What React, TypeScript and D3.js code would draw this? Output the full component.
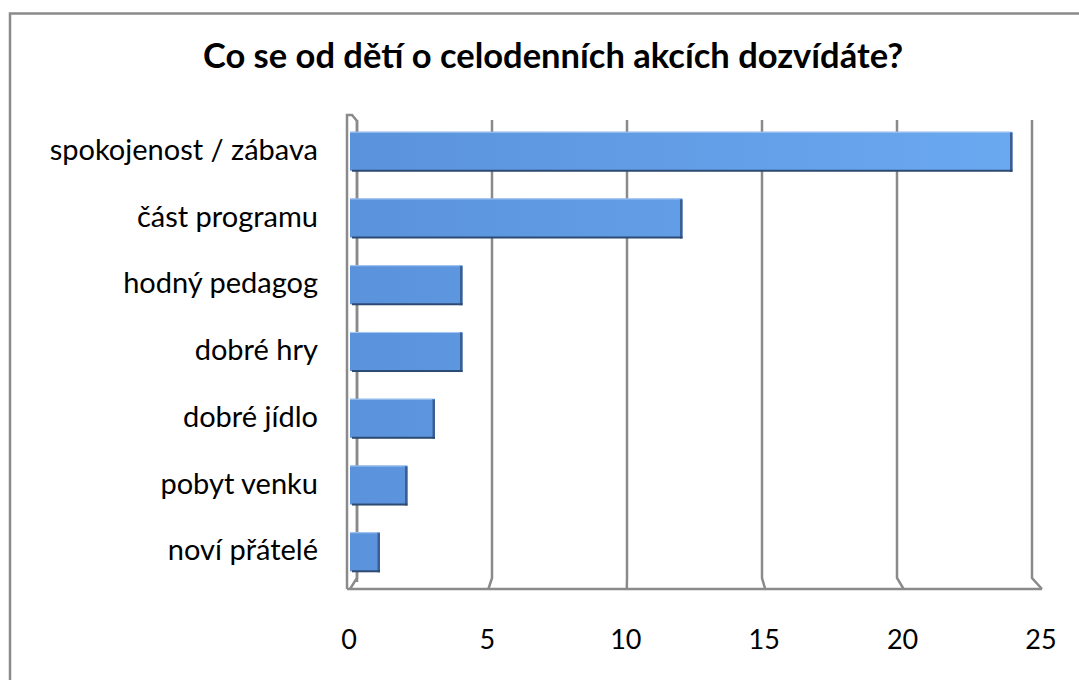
import React, { useEffect, useRef } from "react";
import * as d3 from "d3";

const title = "Co se od dětí o celodenních akcích dozvídáte?";
const categories = [
  "spokojenost / zábava",
  "část programu",
  "hodný pedagog",
  "dobré hry",
  "dobré jídlo",
  "pobyt venku",
  "noví přátelé",
];
const values = [24, 12, 4, 4, 3, 2, 1];
const xTicks = [0, 5, 10, 15, 20, 25];

const FONT = "Lato, 'Open Sans', sans-serif";

export default function App() {
  const ref = useRef<SVGSVGElement>(null);

  useEffect(() => {
    const width = 1079,
      height = 680;
    const svg = d3.select(ref.current).attr("width", width).attr("height", height);
    svg.selectAll("*").remove();

    const defs = svg.append("defs");
    const grad = defs.append("linearGradient").attr("id", "barGrad")
      .attr("gradientUnits", "userSpaceOnUse").attr("x1", 350).attr("x2", 1012).attr("y1", 0).attr("y2", 0);
    grad.append("stop").attr("offset", "0%").attr("stop-color", "#5a93dc");
    grad.append("stop").attr("offset", "100%").attr("stop-color", "#6aa8f0");

    // outer frame (right / bottom edges fall outside the picture)
    svg.append("rect").attr("x", 10).attr("y", 13.5).attr("width", 1100).attr("height", 700)
      .attr("fill", "white").attr("stroke", "#8a8a8a").attr("stroke-width", 2.5);

    // front and back scales (3D floor), bars sit in between
    const xFront = d3.scaleLinear().domain([0, 25]).range([349, 1041]);
    const xBack = d3.scaleLinear().domain([0, 25]).range([357, 1032]);
    const xBar = d3.scaleLinear().domain([0, 25]).range([352.5, 1040]);
    const yTop = 120,
      yBackBottom = 582,
      yFront = 589;

    const y = d3.scaleBand().domain(categories).range([104, 599]).padding(0.415);

    const grid = svg.append("g").attr("fill", "none").attr("stroke", "#8a8a8a").attr("stroke-width", 2.5);
    // left wall
    grid.append("path").attr("d", `M${xFront(0) - 2},${yFront}V115H352L${xBack(0)},121V${yBackBottom}`);
    xTicks.forEach((t) => {
      grid.append("path").attr("d", `M${xBack(t)},${yTop}V${yBackBottom - 4}L${xFront(t) + 1},${yFront}`);
    });
    grid.append("path").attr("d", `M${xFront(0) - 2},${yFront}H${xFront(25) + 1}`);

    // bars
    const bars = svg.append("g");
    categories.forEach((c, i) => {
      const x0 = xFront(0) + 1;
      const x1 = xBar(values[i]);
      const y0 = y(c)!;
      const h = y.bandwidth();
      bars.append("rect").attr("x", x0).attr("y", y0).attr("width", x1 - x0).attr("height", h).attr("fill", "url(#barGrad)");
      bars.append("rect").attr("x", x1 - 2.5).attr("y", y0 + 1).attr("width", 2.5).attr("height", h).attr("fill", "#3b5f94");
      bars.append("rect").attr("x", x0 + 2).attr("y", y0 + h - 1).attr("width", x1 - x0 - 2).attr("height", 2).attr("fill", "#2c4a72");
      bars.append("rect").attr("x", x0).attr("y", y0).attr("width", x1 - x0 - 3).attr("height", 1).attr("fill", "#a9c8f2");
    });

    // category labels
    svg.append("g").selectAll("text").data(categories).join("text")
      .attr("x", 318)
      .attr("y", (d) => y(d)! + y.bandwidth() / 2)
      .attr("dy", "0.3em")
      .attr("text-anchor", "end")
      .style("font-family", FONT)
      .style("font-size", "29px")
      .attr("fill", "#000")
      .text((d) => d);

    // x tick labels
    svg.append("g").selectAll("text").data(xTicks).join("text")
      .attr("x", (d) => xFront(d))
      .attr("y", 640)
      .attr("dy", "0.35em")
      .attr("text-anchor", "middle")
      .style("font-family", FONT)
      .style("font-size", "27px")
      .attr("fill", "#000")
      .text((d) => d);

    svg.append("text")
      .attr("x", 553)
      .attr("y", 68)
      .attr("text-anchor", "middle")
      .style("font-family", FONT)
      .style("font-size", "34.5px")
      .style("font-weight", "bold")
      .attr("fill", "#000")
      .text(title);
  }, []);

  return (
    <div style={{ position: "absolute", left: 0, top: 0 }}>
      <svg ref={ref} style={{ display: "block" }}></svg>
    </div>
  );
}
